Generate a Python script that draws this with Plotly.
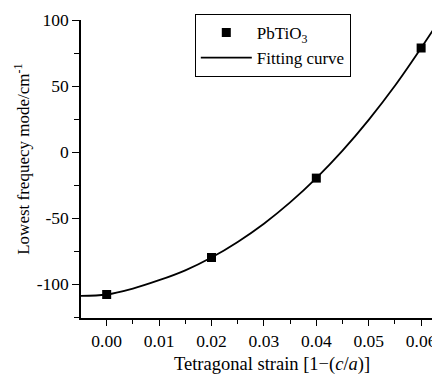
import plotly.graph_objects as go

# Data
strain = [0.00, 0.02, 0.04, 0.06]
freq = [-107.8, -79.8, -19.7, 78.8]

fit_x = [-0.005, 0.0, 0.005, 0.01, 0.015, 0.02, 0.025, 0.03, 0.035, 0.04,
         0.045, 0.05, 0.055, 0.06, 0.0636, 0.065]
fit_y = [-108.9, -107.8, -103.3, -97.0, -89.5, -79.8, -68.0, -54.2, -38.1, -19.7,
         1.1, 24.4, 50.2, 78.8, 100.5, 109.5]

x_tickvals = [0.00, 0.01, 0.02, 0.03, 0.04, 0.05, 0.06]
x_ticktext = ["0.00", "0.01", "0.02", "0.03", "0.04", "0.05", "0.06"]
y_tickvals = [-100, -50, 0, 50, 100]
y_ticktext = ["-100", "-50", "0", "50", "100"]

FONT = "Liberation Serif"

fig = go.Figure()
fig.add_trace(go.Scatter(
    x=strain, y=freq, mode="markers", name="PbTiO<sub>3</sub>",
    marker=dict(symbol="square", size=9, color="black"),
))
fig.add_trace(go.Scatter(
    x=fit_x, y=fit_y, mode="lines", name="Fitting curve",
    line=dict(color="black", width=1.8, shape="spline"),
))

# page body has an 8px margin, so the figure is drawn 8px smaller
fig.update_layout(
    width=432, height=366,
    margin=dict(l=73, r=0, t=12, b=56, autoexpand=False),
    paper_bgcolor="white", plot_bgcolor="white",
    font=dict(family=FONT, size=17, color="black"),
    showlegend=True,
    legend=dict(
        x=0.317, y=1.02, xanchor="left", yanchor="top",
        bordercolor="black", borderwidth=1, bgcolor="white",
        font=dict(family=FONT, size=17, color="black"),
        tracegroupgap=0, itemwidth=51,
    ),
    xaxis=dict(
        range=[-0.0049, 0.0636],
        tickvals=x_tickvals, ticktext=x_ticktext,
        ticks="outside", ticklen=6, tickwidth=1.2, tickcolor="black",
        showline=True, linecolor="black", linewidth=1.5,
        showgrid=False, zeroline=False, automargin=False,
        minor=dict(ticks="outside", ticklen=4, tickwidth=1.2, tickcolor="black",
                   dtick=0.005, tick0=-0.005, showgrid=False),
        tickfont=dict(family=FONT, size=17.5),
    ),
    yaxis=dict(
        range=[-125.6, 100],
        tickvals=y_tickvals, ticktext=y_ticktext,
        ticks="outside", ticklen=7, tickwidth=1.2, tickcolor="black",
        showline=True, linecolor="black", linewidth=1.5,
        showgrid=False, zeroline=False, automargin=False,
        minor=dict(ticks="outside", ticklen=5, tickwidth=1.2, tickcolor="black",
                   dtick=25, tick0=0, showgrid=False),
        tickfont=dict(family=FONT, size=17.5),
    ),
    annotations=[
        dict(
            text="Lowest frequecy mode/cm<sup>-1</sup>",
            xref="paper", yref="paper",
            x=-0.165, y=(318 - 159) / 298, xanchor="center", yanchor="middle",
            textangle=-90, showarrow=False,
            font=dict(family=FONT, size=17, color="black"),
        ),
        dict(
            text="Tetragonal strain [1−(<i>c</i>/<i>a</i>)]",
            xref="paper", yref="paper",
            x=(271.5 - 81) / 359, y=(318 - 364) / 298,
            xanchor="center", yanchor="middle", showarrow=False,
            font=dict(family=FONT, size=18.5, color="black"),
        ),
    ],
)

fig.write_html("out.html")
